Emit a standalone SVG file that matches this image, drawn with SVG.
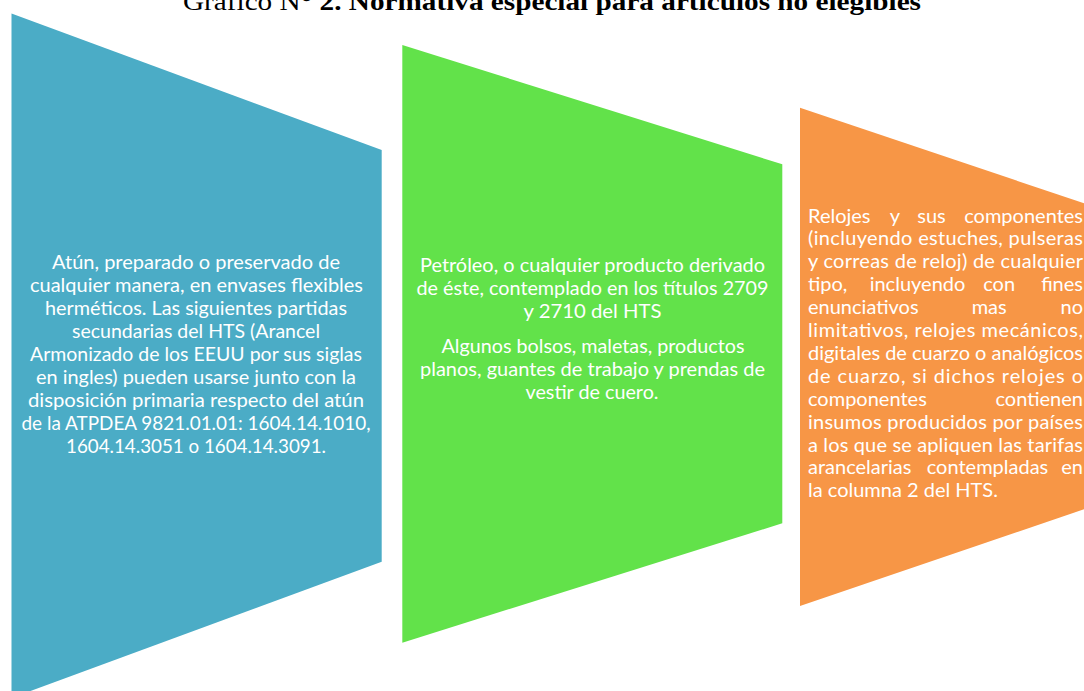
<svg xmlns="http://www.w3.org/2000/svg" width="1084" height="691" viewBox="0 0 1084 691">
<style>
.t{font-family:Lato,"Liberation Sans",sans-serif;font-size:20px;fill:#ffffff}
.c{text-anchor:middle}
.e{text-anchor:end}
.m{text-anchor:middle}
.title{font-family:"Liberation Serif","Times New Roman",serif;font-size:26px;fill:#000}
</style>
<rect width="1084" height="691" fill="#ffffff"/>
<text class="title" x="183" y="9.5" textLength="738" lengthAdjust="spacingAndGlyphs">Gráfico N° <tspan font-weight="bold">2. Normativa especial para artículos no elegibles</tspan></text>
<g id="connectors"></g>
<g id="node-atun">
<polygon points="11.5,13.5 381.7,150 381.7,561.7 11.5,698" fill="#4BACC6"/>
<text class="t c" x="196" y="268.5" textLength="288" lengthAdjust="spacingAndGlyphs">Atún, preparado o preservado de</text>
<text class="t c" x="196.5" y="291.5" textLength="333" lengthAdjust="spacingAndGlyphs">cualquier manera, en envases flexibles</text>
<text class="t c" x="196" y="314.5" textLength="302" lengthAdjust="spacingAndGlyphs">herméticos. Las siguientes partidas</text>
<text class="t c" x="196" y="337.5" textLength="248" lengthAdjust="spacingAndGlyphs">secundarias del HTS (Arancel</text>
<text class="t c" x="196" y="360.5" textLength="332" lengthAdjust="spacingAndGlyphs">Armonizado de los EEUU por sus siglas</text>
<text class="t c" x="196" y="383.5" textLength="320" lengthAdjust="spacingAndGlyphs">en ingles) pueden usarse junto con la</text>
<text class="t c" x="196" y="406.5" textLength="336" lengthAdjust="spacingAndGlyphs">disposición primaria respecto del atún</text>
<text class="t c" x="196" y="429.5" textLength="349" lengthAdjust="spacingAndGlyphs">de la ATPDEA 9821.01.01: 1604.14.1010,</text>
<text class="t c" x="196" y="452.5" textLength="260" lengthAdjust="spacingAndGlyphs">1604.14.3051 o 1604.14.3091.</text>
</g>
<g id="node-petroleo">
<polygon points="402.3,45 782.3,164.3 782.3,523.3 402.3,642.7" fill="#62E24A"/>
<text class="t c" x="592.5" y="271.5" textLength="345" lengthAdjust="spacingAndGlyphs">Petróleo, o cualquier producto derivado</text>
<text class="t c" x="592.5" y="294.5" textLength="352" lengthAdjust="spacingAndGlyphs">de éste, contemplado en los títulos 2709</text>
<text class="t c" x="592.5" y="317.5" textLength="138" lengthAdjust="spacingAndGlyphs">y 2710 del HTS</text>
<text class="t c" x="593" y="352.5" textLength="303" lengthAdjust="spacingAndGlyphs">Algunos bolsos, maletas, productos</text>
<text class="t c" x="592.5" y="375.5" textLength="345" lengthAdjust="spacingAndGlyphs">planos, guantes de trabajo y prendas de</text>
<text class="t c" x="592" y="398.5" textLength="133" lengthAdjust="spacingAndGlyphs">vestir de cuero.</text>
</g>
<g id="node-relojes">
<polygon points="800,107.7 1084,203.3 1084,509.3 800,606" fill="#F79646"/>
<text class="t" x="808" y="222.5">Relojes</text><text class="t m" x="895" y="222.5">y</text><text class="t m" x="931.5" y="222.5">sus</text><text class="t e" x="1083" y="222.5">componentes</text>
<text class="t" x="808" y="245.4" textLength="275" lengthAdjust="spacing">(incluyendo estuches, pulseras</text>
<text class="t" x="808" y="268.3" textLength="275" lengthAdjust="spacing">y correas de reloj) de cualquier</text>
<text class="t" x="808" y="291.2">tipo,</text><text class="t m" x="917.5" y="291.2">incluyendo</text><text class="t m" x="999.2" y="291.2">con</text><text class="t e" x="1083" y="291.2">fines</text>
<text class="t" x="808" y="314.1">enunciativos</text><text class="t m" x="989.2" y="314.1">mas</text><text class="t e" x="1083" y="314.1">no</text>
<text class="t" x="808" y="337" textLength="275" lengthAdjust="spacing">limitativos, relojes mecánicos,</text>
<text class="t" x="808" y="359.9" textLength="275" lengthAdjust="spacing">digitales de cuarzo o analógicos</text>
<text class="t" x="808" y="382.8" textLength="275" lengthAdjust="spacing">de cuarzo, si dichos relojes o</text>
<text class="t" x="808" y="405.7">componentes</text><text class="t e" x="1083" y="405.7">contienen</text>
<text class="t" x="808" y="428.6" textLength="275" lengthAdjust="spacing">insumos producidos por países</text>
<text class="t" x="808" y="451.5" textLength="275" lengthAdjust="spacing">a los que se apliquen las tarifas</text>
<text class="t" x="808" y="474.4">arancelarias</text><text class="t m" x="987.5" y="474.4">contempladas</text><text class="t e" x="1083" y="474.4">en</text>
<text class="t" x="808" y="497.3">la columna 2 del HTS.</text>
</g>
</svg>
